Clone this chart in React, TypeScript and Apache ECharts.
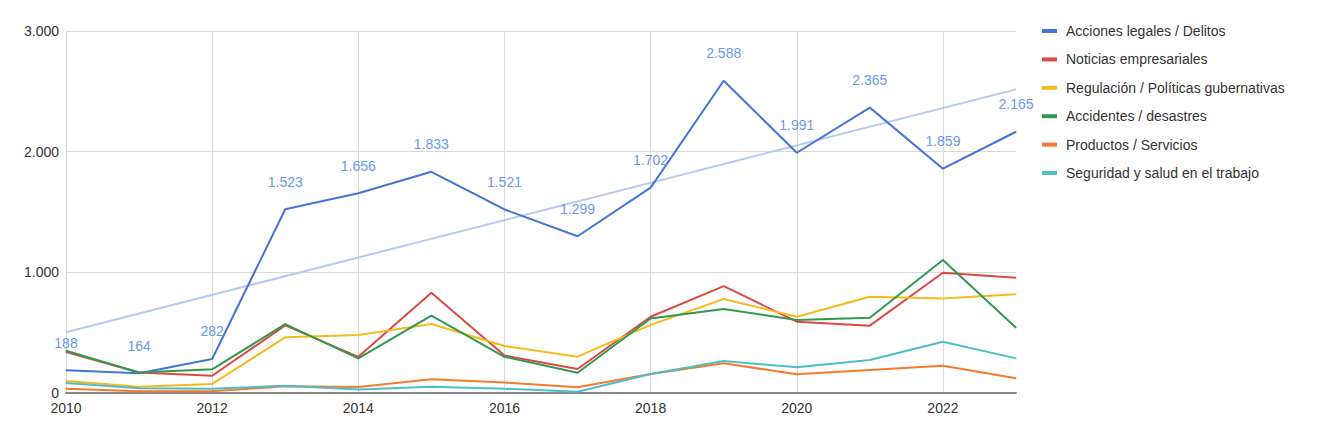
import React, { useEffect, useRef } from "react";
import * as echarts from "echarts";

const years = ["2010","2011","2012","2013","2014","2015","2016","2017","2018","2019","2020","2021","2022","2023"];
const yTicks = [0, 1000, 2000, 3000];

const acciones = [188, 164, 282, 1523, 1656, 1833, 1521, 1299, 1702, 2588, 1991, 2365, 1859, 2165];
const noticias = [340, 170, 143, 560, 300, 831, 310, 199, 632, 886, 591, 558, 997, 955];
const regulacion = [99, 52, 75, 461, 480, 572, 389, 301, 565, 779, 632, 798, 784, 818];
const accidentes = [350, 170, 196, 571, 287, 641, 300, 168, 618, 696, 605, 624, 1102, 541];
const productos = [35, 15, 15, 55, 50, 113, 86, 47, 157, 246, 155, 190, 226, 122];
const seguridad = [83, 40, 35, 60, 30, 52, 36, 11, 157, 265, 213, 273, 425, 287];

// trendline endpoints (2010 and 2023)
const trendStart = 504;
const trendEnd = 2516;

const seriesNames = [
  "Acciones legales / Delitos",
  "Noticias empresariales",
  "Regulación / Políticas gubernativas",
  "Accidentes / desastres",
  "Productos / Servicios",
  "Seguridad y salud en el trabajo",
];
const seriesData = [acciones, noticias, regulacion, accidentes, productos, seguridad];
const colors = ["#4274da", "#da4a42", "#f5bb1c", "#2f9a4e", "#f57a2e", "#4cbec6"];

const FONT = "'Liberation Sans', Arial, sans-serif";
const fmt = (v: number) => String(v).replace(/\B(?=(\d{3})+(?!\d))/g, ".");

export default function App() {
  const ref = useRef<HTMLDivElement>(null);
  useEffect(() => {
    document.body.style.margin = "0";
    if (!ref.current) return;
    const chart = echarts.init(ref.current, undefined, { renderer: "svg" });
    const last = years.length - 1;
    const trend = years.map((_, i) => (i === 0 ? trendStart : i === last ? trendEnd : null));
    chart.setOption({
      animation: false,
      backgroundColor: "#ffffff",
      grid: { left: 66, right: 302, top: 31, bottom: 46 },
      legend: {
        data: seriesNames,
        orient: "vertical",
        left: 1042,
        top: 24,
        padding: 0,
        itemWidth: 15,
        itemHeight: 4,
        itemGap: 14.4,
        icon: "rect",
        textStyle: { fontFamily: FONT, fontSize: 14, color: "#333", lineHeight: 14, padding: [0, 0, 0, 4] },
      },
      xAxis: {
        type: "category",
        data: years,
        boundaryGap: false,
        axisLine: { show: true, lineStyle: { color: "#888", width: 2 } },
        axisTick: { show: false },
        axisLabel: { interval: 1, color: "#333", fontFamily: FONT, fontSize: 14, margin: 8 },
        splitLine: { show: true, interval: 1, lineStyle: { color: "#d9d9d9", width: 1 } },
      },
      yAxis: {
        type: "value",
        min: yTicks[0],
        max: yTicks[yTicks.length - 1],
        interval: 1000,
        axisLine: { show: false },
        axisTick: { show: false },
        axisLabel: {
          color: "#333",
          fontFamily: FONT,
          fontSize: 14,
          margin: 7,
          formatter: (v: number) => fmt(v),
        },
        splitLine: { show: true, lineStyle: { color: "#d9d9d9", width: 1 } },
      },
      series: [
        {
          name: "Tendencia",
          type: "line",
          data: trend,
          connectNulls: true,
          symbol: "none",
          lineStyle: { color: "#b5c9f2", width: 2 },
          itemStyle: { color: "#b5c9f2" },
          z: 1,
          silent: true,
        },
        ...seriesNames.map((name, i) => ({
          name,
          type: "line",
          data: seriesData[i],
          symbol: "circle",
          symbolSize: 1,
          showSymbol: true,
          lineStyle: { color: colors[i], width: 2 },
          itemStyle: { color: colors[i] },
          z: 2 + i,
          label:
            i === 0
              ? {
                  show: true,
                  position: "top",
                  distance: 20,
                  color: "#6b98ec",
                  fontFamily: FONT,
                  fontSize: 14,
                  formatter: (p: any) => fmt(p.value),
                }
              : { show: false },
        })),
      ],
    });
    return () => chart.dispose();
  }, []);
  return <div ref={ref} style={{ width: 1318, height: 439 }} />;
}
